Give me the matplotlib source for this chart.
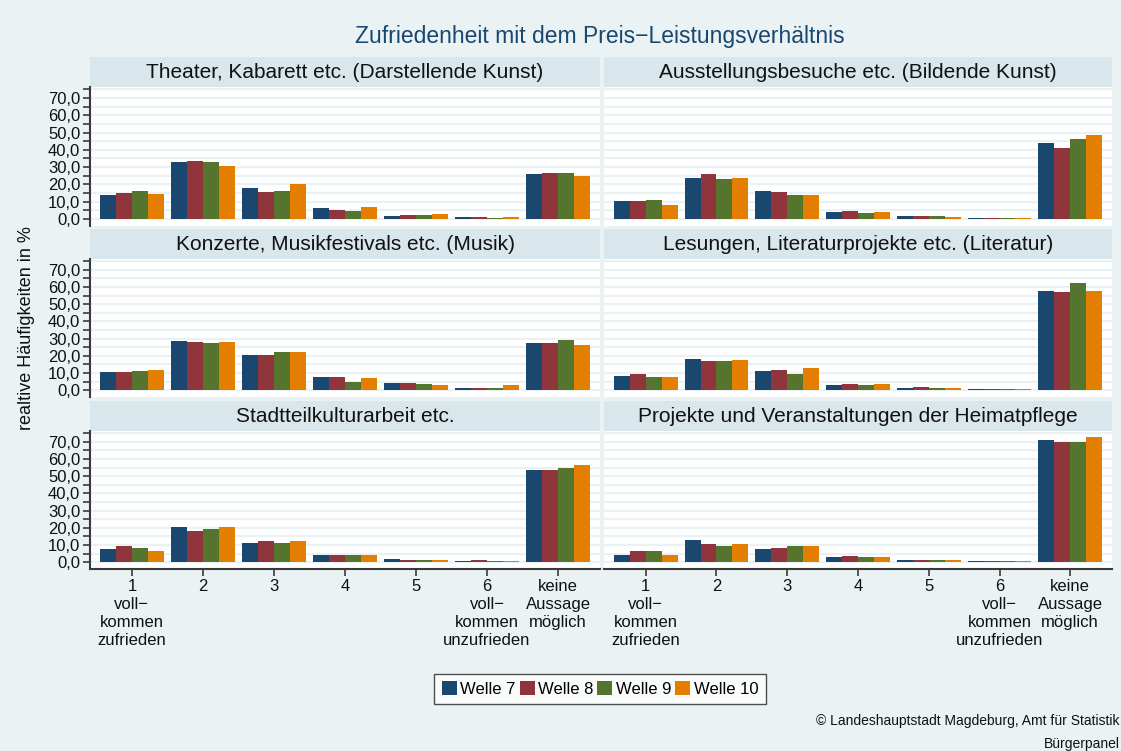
import numpy as np
import matplotlib
matplotlib.use("Agg")
import matplotlib.pyplot as plt
from matplotlib.patches import Patch
from matplotlib.ticker import FuncFormatter, MultipleLocator

plt.rcParams['font.family'] = ['Liberation Sans', 'DejaVu Sans']

# Antwortkategorien und Wellen
categories = ["1\nvoll\u2212\nkommen\nzufrieden", "2", "3", "4", "5",
              "6\nvoll\u2212\nkommen\nunzufrieden", "keine\nAussage\nmöglich"]
waves = ["Welle 7", "Welle 8", "Welle 9", "Welle 10"]
colors = ["#1a476f", "#90353b", "#55752f", "#e37e00"]

panel_titles = [
    "Theater, Kabarett etc. (Darstellende Kunst)",
    "Ausstellungsbesuche etc. (Bildende Kunst)",
    "Konzerte, Musikfestivals etc. (Musik)",
    "Lesungen, Literaturprojekte etc. (Literatur)",
    "Stadtteilkulturarbeit etc.",
    "Projekte und Veranstaltungen der Heimatpflege",
]

# relative Häufigkeiten in %, je Welle 7..10
theater = [[13.7, 32.7, 17.7, 6.2, 1.5, 1.0, 26.3],
           [14.8, 33.8, 15.4, 5.0, 2.1, 1.0, 26.9],
           [16.5, 32.7, 16.0, 4.4, 2.1, 0.4, 26.9],
           [14.2, 30.4, 20.0, 6.7, 2.7, 1.0, 24.6]]
ausstellung = [[10.2, 23.5, 16.0, 3.8, 1.5, 0.4, 43.7],
               [10.2, 25.8, 15.4, 4.4, 1.5, 0.4, 41.3],
               [11.3, 22.9, 13.7, 3.3, 1.5, 0.4, 46.5],
               [7.9, 24.0, 13.7, 3.8, 1.0, 0.4, 48.3]]
konzerte = [[10.3, 28.8, 20.7, 7.4, 4.4, 1.5, 27.7],
            [10.8, 28.2, 20.7, 7.9, 4.4, 1.5, 27.7],
            [11.4, 27.7, 22.4, 5.0, 3.3, 1.5, 29.4],
            [12.0, 28.2, 21.9, 6.8, 2.7, 2.7, 26.5]]
lesungen = [[8.5, 18.4, 11.4, 2.7, 1.5, 0.4, 57.8],
            [9.1, 17.2, 12.0, 3.3, 2.1, 0.4, 57.3],
            [7.4, 17.2, 9.1, 2.7, 1.5, 0.4, 62.5],
            [7.9, 17.8, 12.6, 3.3, 1.0, 0.4, 57.8]]
stadtteil = [[7.9, 20.6, 11.4, 4.4, 2.1, 0.4, 53.6],
             [9.6, 18.3, 12.5, 4.4, 1.5, 1.0, 53.6],
             [8.5, 19.5, 11.4, 4.4, 1.5, 0.4, 54.7],
             [6.7, 20.6, 12.5, 3.9, 1.5, 0.4, 56.5]]
heimatpflege = [[4.4, 13.1, 7.9, 2.7, 1.0, 0.4, 70.9],
                [6.2, 10.8, 8.5, 3.3, 1.0, 0.4, 69.7],
                [6.2, 9.6, 9.6, 2.7, 1.5, 0.4, 69.7],
                [4.4, 10.8, 9.1, 2.7, 1.0, 0.4, 72.6]]

panel_data = [theater, ausstellung, konzerte, lesungen, stadtteil, heimatpflege]

W, H = 1121, 751
bg = "#eaf2f3"
strip_col = "#d9e6eb"
grid_col = "#eaf2f3"
axis_col = "#3a3a3a"

fig = plt.figure(figsize=(W / 100, H / 100), dpi=100, facecolor=bg)


def px_axes(x0, y0, x1, y1, **kw):
    # Achsen in Pixelkoordinaten (oben links = 0,0)
    return fig.add_axes([x0 / W, 1 - y1 / H, (x1 - x0) / W, (y1 - y0) / H], **kw)


cols = [(90, 600), (604, 1112)]
rows = [(57, 87, 226), (229, 259, 397), (401, 431, 569)]

x = np.arange(1, len(categories) + 1)
bw = 0.225
comma = FuncFormatter(lambda v, p: f"{v:.1f}".replace(".", ","))

for i, (title, data) in enumerate(zip(panel_titles, panel_data)):
    r, c = divmod(i, 2)
    x0, x1 = cols[c]
    s0, s1, p1 = rows[r]

    strip = px_axes(x0, s0, x1, s1, facecolor=strip_col)
    strip.set_xticks([])
    strip.set_yticks([])
    for sp in strip.spines.values():
        sp.set_visible(False)
    strip.text(0.5, 0.5, title, ha="center", va="center", fontsize=15,
               color="#111111", transform=strip.transAxes)

    ax = px_axes(x0, s1, x1, p1, facecolor="white")
    for k, vals in enumerate(data):
        ax.bar(x + (k - 1.5) * bw, vals, width=bw, color=colors[k],
               linewidth=0, zorder=3)
    ax.set_xlim(0.41, 7.59)
    ax.set_ylim(-4.0, 76.3)
    for g in np.arange(0, 80, 5):
        ax.axhline(g, color=grid_col, lw=1.6, zorder=1)
    for sp in ax.spines.values():
        sp.set_visible(False)

    ax.yaxis.set_major_locator(MultipleLocator(10))
    ax.yaxis.set_minor_locator(MultipleLocator(5))
    ax.yaxis.set_major_formatter(comma)
    if c == 0:
        ax.spines["left"].set_visible(True)
        ax.spines["left"].set_color(axis_col)
        ax.spines["left"].set_linewidth(1.5)
        ax.tick_params(axis="y", which="both", length=5, width=1.2,
                       color=axis_col, labelsize=12, pad=2,
                       labelcolor="#111111")
    else:
        ax.tick_params(axis="y", which="both", left=False, labelleft=False)

    ax.set_xticks(x)
    if r == 2:
        ax.spines["bottom"].set_visible(True)
        ax.spines["bottom"].set_color(axis_col)
        ax.spines["bottom"].set_linewidth(1.5)
        ax.set_xticklabels(categories, fontsize=12, color="#111111",
                           linespacing=1.25)
        ax.tick_params(axis="x", length=5, width=1.2, color=axis_col, pad=2)
    else:
        ax.tick_params(axis="x", bottom=False, labelbottom=False)

fig.text(600 / W, 1 - 36 / H, "Zufriedenheit mit dem Preis\u2212Leistungsverhältnis",
         ha="center", va="center", fontsize=16.5, color="#1a476f")
fig.text(27 / W, 1 - 328 / H, "realtive Häufigkeiten in %", rotation=90,
         ha="center", va="center", fontsize=13, color="#111111")

handles = [Patch(facecolor=col, edgecolor="none") for col in colors]
leg = fig.legend(handles, waves, loc="center", bbox_to_anchor=(600 / W, 1 - 689 / H),
                 ncol=4, fontsize=12, frameon=True, fancybox=False,
                 edgecolor="#222222", facecolor="white", handlelength=0.9,
                 handleheight=0.9, handletextpad=0.2, columnspacing=0.25,
                 borderpad=0.45, borderaxespad=0)
leg.get_frame().set_linewidth(1.0)

fig.text(1120 / W, 1 - 721 / H, "© Landeshauptstadt Magdeburg, Amt für Statistik",
         ha="right", va="center", fontsize=10, color="#111111")
fig.text(1120 / W, 1 - 744 / H, "Bürgerpanel", ha="right", va="center",
         fontsize=10, color="#111111")

fig.savefig("out.png", dpi=100, facecolor=bg)
